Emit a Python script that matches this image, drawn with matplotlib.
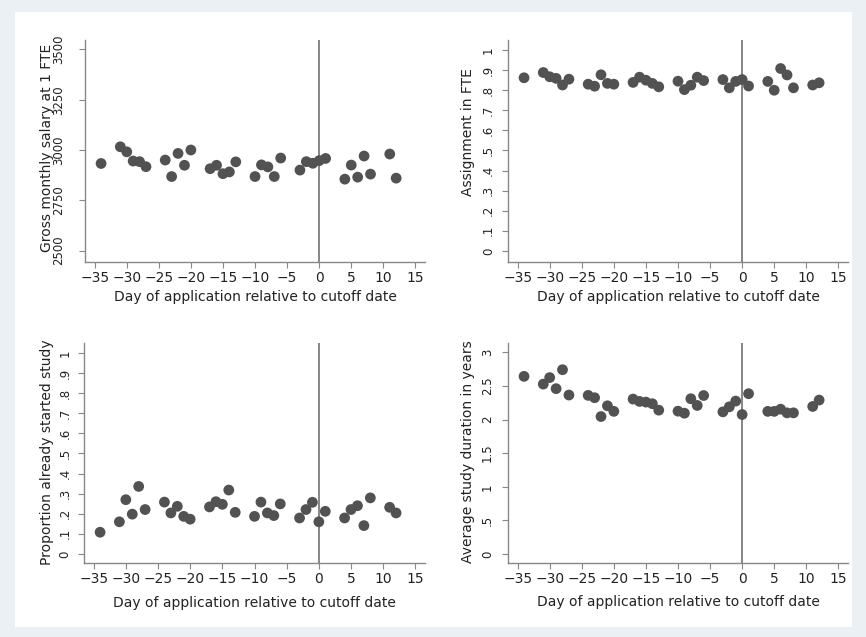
import matplotlib
matplotlib.use("Agg")
import matplotlib.pyplot as plt
from matplotlib.patches import Rectangle

# day of application relative to cutoff (weekdays only)
days = [-34, -31, -30, -29, -28, -27, -24, -23, -22, -21, -20,
        -17, -16, -15, -14, -13, -10, -9, -8, -7, -6,
        -3, -2, -1, 0, 1, 4, 5, 6, 7, 8, 11, 12]

salary = [2933, 3016, 2991, 2945, 2942, 2917, 2950, 2868, 2983, 2924, 3000,
          2907, 2924, 2882, 2891, 2941, 2868, 2926, 2916, 2868, 2960,
          2900, 2942, 2934, 2947, 2958, 2855, 2925, 2865, 2970, 2880, 2980, 2860]

fte = [0.862, 0.888, 0.867, 0.859, 0.826, 0.855, 0.830, 0.820, 0.877, 0.834, 0.830,
       0.839, 0.865, 0.850, 0.834, 0.817, 0.845, 0.803, 0.825, 0.865, 0.848,
       0.853, 0.812, 0.844, 0.853, 0.821, 0.844, 0.800, 0.908, 0.876, 0.812, 0.826, 0.837]

started = [0.108, 0.160, 0.270, 0.198, 0.336, 0.221, 0.258, 0.204, 0.237, 0.187, 0.173,
           0.234, 0.260, 0.247, 0.318, 0.207, 0.187, 0.258, 0.204, 0.191, 0.249,
           0.179, 0.221, 0.257, 0.160, 0.212, 0.179, 0.221, 0.240, 0.141, 0.279, 0.232, 0.204]

duration = [2.643, 2.528, 2.625, 2.460, 2.742, 2.365, 2.360, 2.325, 2.045, 2.205, 2.122,
            2.305, 2.270, 2.260, 2.236, 2.140, 2.125, 2.095, 2.310, 2.210, 2.358,
            2.115, 2.190, 2.275, 2.075, 2.385, 2.122, 2.122, 2.155, 2.100, 2.100, 2.195, 2.290]

xlabel = "Day of application relative to cutoff date"
xticks = [-35, -30, -25, -20, -15, -10, -5, 0, 5, 10, 15]

panels = [
    dict(y=salary, ylabel="Gross monthly salary at 1 FTE",
         yticks=[2500, 2750, 3000, 3250, 3500],
         yticklabels=["2500", "2750", "3000", "3250", "3500"],
         ylim=(2443, 3547), pos=[0.0982, 0.5887, 0.3926, 0.3485], pad=10,
         ylab_xy=(-0.1126, 0.5135), xlab_y=-0.156),
    dict(y=fte, ylabel="Assignment in FTE",
         yticks=[i / 10 for i in range(11)],
         yticklabels=["0", ".1", ".2", ".3", ".4", ".5", ".6", ".7", ".8", ".9", "1"],
         ylim=(-0.055, 1.05), pos=[0.5866, 0.5887, 0.3926, 0.3485], pad=5.5,
         ylab_xy=(-0.1176, 0.5856), xlab_y=-0.156),
    dict(y=started, ylabel="Proportion already started study",
         yticks=[i / 10 for i in range(11)],
         yticklabels=["0", ".1", ".2", ".3", ".4", ".5", ".6", ".7", ".8", ".9", "1"],
         ylim=(-0.045, 1.05), pos=[0.0970, 0.1162, 0.3938, 0.3454], pad=5,
         ylab_xy=(-0.1094, 0.5045), xlab_y=-0.183),
    dict(y=duration, ylabel="Average study duration in years",
         yticks=[0, 0.5, 1, 1.5, 2, 2.5, 3],
         yticklabels=["0", ".5", "1", "1.5", "2", "2.5", "3"],
         ylim=(-0.134, 3.14), pos=[0.5866, 0.1162, 0.3926, 0.3454], pad=6,
         ylab_xy=(-0.119, 0.5045), xlab_y=-0.176),
]

fig = plt.figure(figsize=(8.66, 6.37), dpi=100, facecolor="#eaf0f3")
fig.patches.append(Rectangle((0.0173, 0.0157), 0.9665, 0.9655, transform=fig.transFigure,
                             facecolor="white", edgecolor="none", zorder=-5))

for p in panels:
    ax = fig.add_axes(p["pos"])
    ax.set_facecolor("none")
    ax.scatter(days, p["y"], s=60, color="#525252", edgecolors="none", zorder=3)
    ax.axvline(0, color="#666666", lw=1.1, zorder=2)
    ax.set_xlim(-36.5, 16.5)
    ax.set_ylim(*p["ylim"])
    ax.set_xticks(xticks)
    ax.set_yticks(p["yticks"])
    ax.set_yticklabels(p["yticklabels"], rotation=90, va="center", fontsize=8.5)
    ax.tick_params(axis="x", labelsize=10, length=4, color="#888888", pad=2.5, labelcolor="#222222")
    ax.tick_params(axis="y", length=4, color="#888888", pad=p["pad"], labelcolor="#222222")
    for side in ["top", "right"]:
        ax.spines[side].set_visible(False)
    for side in ["left", "bottom"]:
        ax.spines[side].set_color("#888888")
        ax.spines[side].set_linewidth(1.0)
    ax.set_xlabel(xlabel, fontsize=10, color="#222222", va="center")
    ax.xaxis.set_label_coords(0.5, p["xlab_y"])
    ax.set_ylabel(p["ylabel"], fontsize=10, color="#222222", va="center")
    ax.yaxis.set_label_coords(*p["ylab_xy"])

fig.savefig("out.png", dpi=100, facecolor=fig.get_facecolor())
